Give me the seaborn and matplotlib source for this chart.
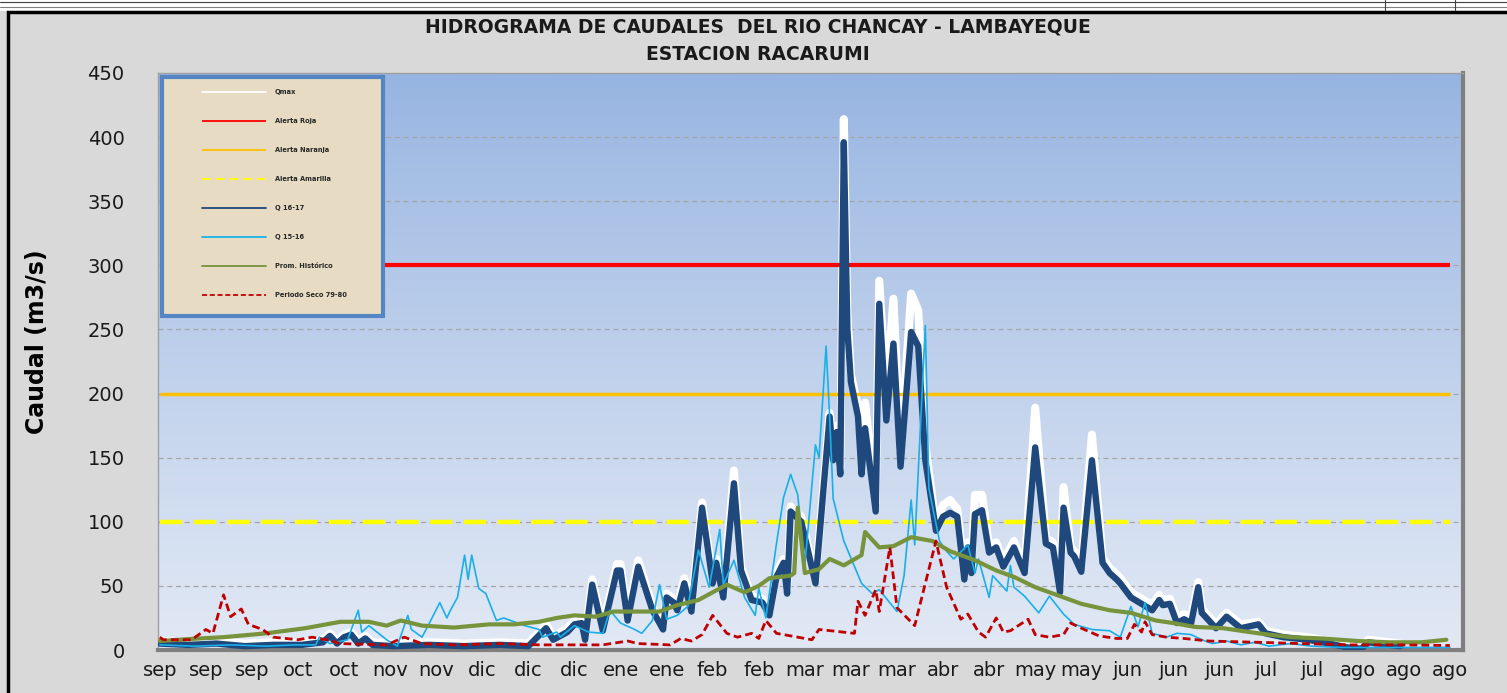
"""
Hidrograma de caudales del rio Chancay - Lambayeque, estacion Racarumi.
Recreacion del grafico de Excel con seaborn / matplotlib.
"""

import numpy as np
import matplotlib.pyplot as plt
import seaborn as sns
from matplotlib.patches import Rectangle

# --- datos (dia del año hidrologico, 0 = inicio de setiembre) ---
meses = ['sep', 'sep', 'sep', 'oct', 'oct', 'nov', 'nov', 'dic', 'dic', 'dic',
         'ene', 'ene', 'feb', 'feb', 'mar', 'mar', 'mar', 'abr', 'abr', 'may',
         'may', 'jun', 'jun', 'jun', 'jul', 'jul', 'ago', 'ago', 'ago']

dias_q1617 = [0, 8, 16, 24, 32, 40, 46, 48, 50, 52, 54, 56, 58, 60, 66, 76, 86, 96, 104,
              109, 111, 115, 117, 119, 120, 122, 125, 129, 130, 132, 135, 139, 142, 143,
              145, 146, 148, 150, 153, 156, 157, 159, 162, 164, 167, 170, 172, 174, 176,
              177, 178, 181, 185, 189, 190, 191, 192, 193, 194, 195, 197, 198, 199, 202,
              203, 205, 207, 209, 212, 214, 216, 219, 221, 223, 225, 227, 228, 229, 230,
              232, 234, 236, 238, 241, 244, 247, 250, 252, 254, 255, 257, 258, 260, 263,
              266, 268, 270, 271, 274, 277, 280, 282, 283, 285, 287, 289, 291, 293, 294,
              298, 301, 305, 310, 312, 317, 324, 330, 335, 339, 341, 350]
q1617 = [5, 4, 5, 3, 4, 4, 6, 11, 5, 10, 12, 5, 9, 4, 3, 4, 3, 4, 3,
         17, 8, 14, 20, 21, 8, 51, 15, 62, 62, 23, 65, 31, 16, 41,
         37, 31, 52, 30, 111, 52, 68, 41, 130, 62, 39, 37, 27, 57, 68,
         44, 108, 100, 52, 182, 148, 170, 137, 396, 250, 209, 182, 137, 173, 108,
         270, 179, 239, 143, 248, 237, 148, 93, 104, 107, 104, 55, 80, 60, 106,
         109, 76, 80, 65, 80, 60, 158, 83, 80, 45, 111, 76, 73, 61, 148,
         68, 60, 55, 52, 41, 36, 31, 39, 35, 36, 21, 24, 21, 49, 29,
         17, 26, 17, 20, 13, 10, 8, 5, 2, 1, 6, 3]
qmax = [7, 6, 7, 5, 6, 6, 8, 13, 7, 12, 14, 7, 11, 6, 5, 6, 5, 6, 5,
        20, 10, 17, 23, 24, 10, 55, 18, 67, 67, 26, 70, 34, 19, 44,
        40, 34, 56, 33, 115, 55, 71, 44, 140, 65, 42, 40, 30, 60, 71,
        47, 112, 104, 55, 185, 155, 175, 142, 414, 262, 215, 190, 160, 193, 115,
        288, 200, 274, 155, 278, 265, 160, 97, 113, 117, 110, 59, 84, 64, 121,
        121, 81, 84, 69, 85, 64, 189, 87, 84, 49, 127, 80, 77, 65, 168,
        72, 64, 59, 56, 45, 40, 35, 43, 39, 40, 25, 28, 25, 53, 32,
        20, 29, 20, 22, 15, 12, 10, 7, 4, 3, 8, 5]

dias_q1516 = [0, 10, 20, 30, 38, 44, 45, 48, 53, 56, 57, 59, 64, 67, 70, 71, 74, 77, 79,
              81, 82, 84, 86, 87, 88, 90, 92, 95, 97, 100, 103, 107, 108, 112, 113, 117,
              121, 125, 127, 130, 134, 136, 139, 141, 143, 146, 149, 152, 153, 155, 158,
              159, 162, 165, 168, 169, 171, 174, 176, 178, 180, 182, 185, 186, 188, 189,
              190, 193, 198, 201, 203, 208, 210, 212, 213, 216, 217, 220, 222, 224, 228,
              230, 231, 234, 235, 239, 240, 241, 244, 248, 251, 255, 258, 263, 268, 271,
              274, 276, 278, 280, 284, 287, 291, 294, 297, 301, 305, 309, 313, 319, 325,
              333, 344, 364]
q1516 = [4, 3, 4, 3, 4, 4, 10, 5, 8, 31, 14, 19, 8, 3, 27, 16, 10, 26, 37,
         25, 31, 41, 74, 55, 74, 48, 44, 23, 25, 22, 19, 16, 10, 14, 10, 19,
         14, 13, 31, 21, 16, 13, 23, 51, 24, 27, 34, 78, 68, 49, 94,
         51, 70, 41, 27, 48, 25, 83, 119, 137, 121, 66, 160, 150, 237, 182,
         118, 85, 52, 44, 47, 30, 58, 117, 82, 253, 126, 85, 77, 71, 82,
         60, 71, 41, 58, 46, 66, 49, 42, 29, 42, 28, 20, 16, 15, 10,
         34, 18, 37, 13, 10, 13, 12, 8, 5, 7, 4, 6, 3, 5, 3,
         2, 2, 2]

dias_prom = [0, 8, 18, 30, 41, 51, 59, 64, 68, 74, 83, 93, 100, 107, 112, 117, 123, 128,
             135, 141, 146, 152, 156, 160, 165, 169, 172, 178, 179, 180, 182, 186, 189,
             193, 198, 199, 203, 207, 212, 218, 223, 230, 236, 241, 247, 253, 260, 268,
             274, 281, 286, 292, 300, 310, 319, 328, 338, 347, 356, 363]
prom = [7, 8.5, 10, 13, 17, 22, 22, 19, 23, 19, 17.5, 20, 20, 22, 25, 27, 26, 30,
        30, 30, 35, 39, 45, 51, 45, 50, 56, 58, 60, 111, 60, 63, 71,
        66, 74, 92, 80, 81, 88, 85, 77, 70, 62, 57, 49, 43, 36, 31,
        29, 23, 21, 18, 17, 13, 10, 9, 7, 6, 6, 8]

dias_seco = [0, 1, 9, 13, 15, 18, 20, 23, 25, 29, 32, 39, 43, 47, 51, 64, 69, 71, 74, 83,
             96, 107, 125, 132, 135, 144, 147, 150, 153, 156, 160, 163, 167, 169, 171,
             174, 180, 184, 186, 196, 197, 199, 202, 203, 206, 208, 213, 219, 222, 226,
             228, 231, 233, 236, 238, 240, 245, 247, 251, 255, 257, 260, 265, 270, 273,
             275, 277, 278, 280, 284, 289, 296, 310, 322, 336, 350, 364]
seco = [10, 8, 8, 16, 13, 43, 26, 32, 20, 16, 10, 8, 10, 8, 5, 4, 10, 8, 5, 4,
        5, 4, 4, 7, 5, 4, 9, 7, 12, 27, 13, 10, 13, 9, 23,
        13, 10, 8, 16, 13, 38, 27, 47, 30, 80, 33, 19, 85, 49, 24,
        28, 14, 10, 25, 14, 15, 24, 12, 10, 12, 21, 17, 11, 9, 9,
        20, 14, 22, 12, 10, 9, 7, 6, 5, 4, 4, 3.5]

alerta_roja = 300
alerta_naranja = 200
alerta_amarilla = 100
dia_ini, dia_fin = 0, 364


def draw_series(ax, x, y, label, color, lw, z, dashes=None):
    """Dibuja una serie con seaborn y ajusta el trazo."""
    sns.lineplot(x=x, y=y, ax=ax, label=label, color=color, linewidth=lw,
                 estimator=None, sort=False, zorder=z)
    line = ax.lines[-1]
    line.set_solid_capstyle('round')
    if dashes is not None:
        line.set_dashes(dashes)
    return line


sns.set_style('white')
plt.rcParams['font.family'] = ['DejaVu Sans']

fig = plt.figure(figsize=(15.07, 6.93), dpi=100)
fig.patch.set_facecolor('#D9D9D9')

# franja blanca superior (recorte de la hoja)
fig.add_artist(Rectangle((0, 1 - 11 / 693), 1, 11 / 693, transform=fig.transFigure,
                         facecolor='white', edgecolor='none', zorder=0))
fig.add_artist(plt.Line2D([0, 1], [1 - 2 / 693] * 2, color='#404040', lw=0.8))
fig.add_artist(plt.Line2D([0, 1], [1 - 7 / 693] * 2, color='#808080', lw=0.8))
for xv in (1385 / 1507, 1455 / 1507):
    fig.add_artist(plt.Line2D([xv, xv], [1 - 10 / 693, 1], color='#404040', lw=0.8))
# marco negro del area del grafico
fig.add_artist(Rectangle((8 / 1507, -0.1), 1.2, 0.1 + 1 - 12 / 693, transform=fig.transFigure,
                         fill=False, edgecolor='black', lw=2.5, zorder=1))

ax = fig.add_axes([158 / 1507, 1 - 650 / 693, (1463 - 158) / 1507, (650 - 73) / 693])

# fondo degradado azul
grad = np.linspace(0, 1, 256).reshape(-1, 1)
top = np.array([150, 180, 225]) / 255
bottom = np.array([226, 233, 245]) / 255
img = top + (bottom - top) * grad[..., None] ** 0.9
ax.imshow(img, extent=[0, 1, 0, 1], transform=ax.transAxes, aspect='auto', zorder=0)

# series en el orden del libro de Excel
draw_series(ax, dias_q1617, qmax, 'Qmax', 'white', 5.8, 2)
for nivel, lab, col, lw, z in [(alerta_roja, 'Alerta Roja', '#FF0000', 3.0, 3),
                               (alerta_naranja, 'Alerta Naranja', '#FFC000', 2.5, 3),
                               (alerta_amarilla, 'Alerta Amarilla', '#FFFF00', 3.2, 3)]:
    ln = draw_series(ax, [dia_ini, dia_fin], [nivel, nivel], lab, col, lw, z)
    ln.set_solid_capstyle('butt')
    if lab == 'Alerta Amarilla':
        ln.set_dashes((5, 2.6))
draw_series(ax, dias_q1617, q1617, 'Q 16-17', '#1F497D', 4.6, 4)
draw_series(ax, dias_q1516, q1516, 'Q 15-16', '#1AAFE8', 1.2, 5)
draw_series(ax, dias_prom, prom, 'Prom. Histórico', '#77933C', 3.0, 6)
draw_series(ax, dias_seco, seco, 'Periodo Seco 79-80', '#C00000', 2.0, 7, dashes=(2.8, 1.5))

ax.set_xlim(-0.5, 367.7)
ax.set_ylim(0, 450)

# grilla y ejes
ax.set_yticks(np.arange(0, 451, 50))
ax.yaxis.grid(True, color='#A6A6A6', linestyle=(0, (4, 3)), linewidth=0.9)
ax.set_axisbelow(True)
ax.set_xticks(np.arange(len(meses)) * 13)
ax.set_xticklabels(meses)
ax.tick_params(axis='both', length=0, labelsize=14, colors='#1a1a1a')
ax.tick_params(axis='y', pad=24)
ax.tick_params(axis='x', pad=8)
ax.set_xlabel('')
ax.set_ylabel('')
for side in ('left', 'top'):
    ax.spines[side].set_color('#A0A0A0')
    ax.spines[side].set_linewidth(1)
for side in ('bottom', 'right'):
    ax.spines[side].set_color('#7F7F7F')
    ax.spines[side].set_linewidth(3)

# leyenda sobre recuadro beige
ax.add_patch(Rectangle((0.003, 0.579), 0.1695, 0.414, transform=ax.transAxes,
                       facecolor='#E7DCC3', edgecolor='#5585C2', lw=3, zorder=8))
leg = ax.legend(loc='upper left', bbox_to_anchor=(0.0337, 0.972), frameon=False,
                prop={'size': 4.8, 'weight': 'bold'}, borderpad=0, borderaxespad=0,
                handlelength=9.6, handletextpad=1.3, labelspacing=3.45)
leg.set_zorder(9)
for h in leg.legend_handles:
    h.set_linewidth(1.3)

# titulos
fig.text(0.503, 1 - 27 / 693, 'HIDROGRAMA DE CAUDALES  DEL RIO CHANCAY - LAMBAYEQUE',
         ha='center', va='center', fontsize=13.5, fontweight='bold', color='#1a1a1a')
fig.text(0.503, 1 - 55 / 693, 'ESTACION RACARUMI', ha='center', va='center',
         fontsize=13.5, fontweight='bold', color='#1a1a1a')
fig.text(37 / 1507, 1 - 342 / 693, 'Caudal (m3/s)', rotation=90, ha='center', va='center',
         fontsize=17, fontweight='bold', color='black')

fig.savefig('out.png', dpi=100, facecolor=fig.get_facecolor())
